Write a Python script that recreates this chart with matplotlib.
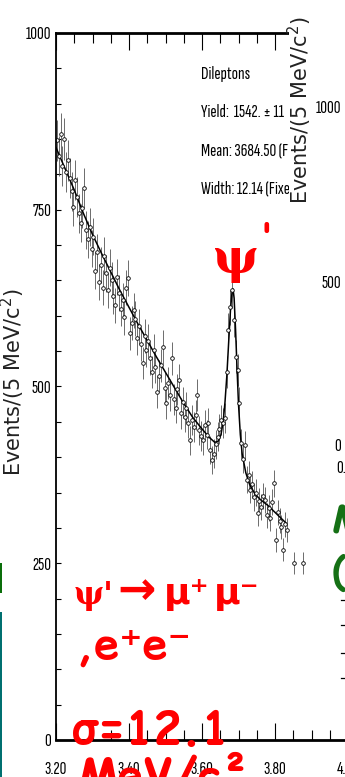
import matplotlib

matplotlib.use("Agg")
import matplotlib.pyplot as plt
import numpy as np
from matplotlib.lines import Line2D
from matplotlib.patches import Rectangle
from matplotlib.ticker import FixedLocator, MultipleLocator

W, H = 345, 777

# dilepton invariant mass, 5 MeV bins from 3.200 GeV
mass_start = 3.2025
bin_width = 0.005
counts = [
    848, 826, 857, 812, 850, 804, 820, 795, 776, 754,
    792, 768, 745, 731, 752, 781, 722, 708, 726, 695,
    712, 664, 690, 648, 672, 640, 685, 660, 636, 668,
    650, 628, 615, 655, 632, 610, 622, 598, 640, 653,
    575, 590, 608, 596, 568, 585, 560, 533, 572, 551,
    565, 540, 520, 551, 528, 492, 515, 530, 556, 498,
    476, 505, 488, 540, 482, 470, 496, 509, 462, 478,
    457, 470, 448, 424, 452, 443, 460, 488, 438, 430,
    424, 445, 432, 448, 410, 396, 405, 418, 429, 440,
    453, 448, 455, 520, 580, 612, 636, 594, 542, 523,
    477, 420, 398, 417, 368, 375, 354, 362, 343, 350,
    321, 338, 330, 345, 340, 318, 328, 314, 336, 363,
    283, 322, 310, 301, 269, 305, 297,
]
tail_mass = [3.8525, 3.8775]
tail_counts = [250, 250]

# fitted shape: background + psi(2S) peak
fit_mass = [
    3.200, 3.225, 3.250, 3.275, 3.300, 3.325, 3.350, 3.375, 3.400, 3.425,
    3.450, 3.475, 3.500, 3.525, 3.550, 3.575, 3.600, 3.620, 3.635, 3.645,
    3.652, 3.658, 3.663, 3.668, 3.673, 3.678, 3.682, 3.685, 3.688, 3.692,
    3.696, 3.700, 3.705, 3.710, 3.720, 3.730, 3.745, 3.760, 3.780, 3.800,
    3.830,
]
fit_counts = [
    838, 808, 778, 745, 715, 688, 662, 636, 612, 588,
    565, 542, 520, 498, 476, 456, 440, 428, 421, 423,
    432, 450, 478, 515, 562, 608, 632, 638, 625, 580,
    525, 475, 432, 405, 378, 362, 348, 340, 332, 322,
    307,
]

stat_lines = ["Dileptons", "Yield:  1542. ± 11", "Mean: 3684.50 (Fixed)", "Width: 12.14 (Fixed)"]
x_major = [3.20, 3.40, 3.60, 3.80, 4.00]
x_labels = ["3.20", "3.40", "3.60", "3.80", "4.00"]
y_major = [0, 250, 500, 750, 1000]

ylabel = "Events/(5 MeV/c$^2$)"
narrow = ["Sofia Sans Extra Condensed", "DejaVu Sans"]
comic = ["Comic Relief", "DejaVu Sans"]
red = "#ff0000"
green = "#157015"


def px(x, y):
    return x / W, 1 - y / H


fig = plt.figure(figsize=(W / 100, H / 100), dpi=100)
fig.patch.set_facecolor("white")

ax = fig.add_axes([56 / W, 37 / H, 292 / W, 707 / H])
mass = mass_start + bin_width * np.arange(len(counts))
all_mass = np.concatenate([mass, tail_mass])
all_counts = np.array(counts + tail_counts, dtype=float)
ax.errorbar(
    all_mass, all_counts, yerr=np.sqrt(all_counts), fmt="o", ms=2.6,
    mfc="white", mec="black", mew=0.6, ecolor="#555555", elinewidth=0.6, capsize=0,
)
ax.plot(fit_mass, fit_counts, color="black", lw=1.1)

ax.set_xlim(3.20, 4.00)
ax.set_ylim(0, 1000)
ax.xaxis.set_major_locator(FixedLocator(x_major))
ax.set_xticklabels(x_labels, family=narrow, fontsize=13.5)
ax.xaxis.set_minor_locator(MultipleLocator(0.05))
ax.yaxis.set_major_locator(FixedLocator(y_major))
ax.set_yticklabels([str(v) for v in y_major], family=narrow, fontsize=13.5)
ax.yaxis.set_minor_locator(MultipleLocator(50))
ax.tick_params(axis="x", which="both", direction="in", top=True, bottom=True, width=0.8, pad=15)
ax.tick_params(axis="x", which="major", length=12)
ax.tick_params(axis="x", which="minor", length=7)
ax.tick_params(axis="y", which="both", direction="in", left=True, right=False, length=3.5, width=0.8, pad=3.5)
ax.spines["right"].set_visible(False)
ax.spines["top"].set_linewidth(2)
ax.spines["bottom"].set_linewidth(2)
ax.spines["left"].set_linewidth(1.3)

for i, line in enumerate(stat_lines):
    fig.text(*px(201, 74 + 38 * i), line, family=narrow, fontsize=13.5, va="center", ha="left", zorder=3)

fig.text(*px(13, 382), ylabel, rotation=90, fontsize=15, ha="center", va="center", color="#222222")

# panel lying over the right edge
fig.add_artist(Rectangle(px(289, 500), 60 / W, 500 / H, transform=fig.transFigure,
                         facecolor="white", edgecolor="none", zorder=5))
fig.text(*px(300, 110), ylabel, rotation=90, fontsize=15, ha="center", va="center", color="#222222", zorder=6)
for label, y, x in [("1000", 108, 341), ("500", 283, 341), ("0", 446, 341), ("0.", 468, 346)]:
    fig.text(*px(x, y), label, family=narrow, fontsize=13.5, ha="right", va="center", zorder=6)
fig.text(*px(332, 522), "M", family=comic, fontsize=28, fontweight="bold", color=green, ha="left", va="center", zorder=6)
fig.text(*px(332, 574), "(", family=comic, fontsize=28, fontweight="bold", color=green, ha="left", va="center", zorder=6)
for y in [600, 625, 653, 678]:
    x0, y0 = px(341, y)
    fig.add_artist(Line2D([x0, 1], [y0, y0], transform=fig.transFigure, color="black", lw=0.9, zorder=6))

# slide edge strips
fig.add_artist(Rectangle(px(0, 593), 2 / W, 30 / H, transform=fig.transFigure,
                         facecolor="#0a6e0a", edgecolor="none", zorder=6))
fig.add_artist(Rectangle(px(0, H), 2 / W, (H - 612) / H, transform=fig.transFigure,
                         facecolor="#007070", edgecolor="none", zorder=6))

# annotations
fig.text(*px(213, 273), "ψ", family="DejaVu Serif", fontsize=35, fontweight="bold", color=red, zorder=7)
fig.text(*px(259, 223), "'", family=comic, fontsize=26, fontweight="bold", color=red, va="top", zorder=7)
fig.text(*px(74, 604), "ψ'", family="DejaVu Serif", fontsize=23, fontweight="bold", color=red, zorder=7)
fig.text(*px(117, 604), "→", fontsize=33, fontweight="bold", color=red, zorder=7)
fig.text(*px(164, 604), "μ⁺", fontsize=26, fontweight="bold", color=red, zorder=7)
fig.text(*px(214, 604), "μ⁻", fontsize=26, fontweight="bold", color=red, zorder=7)
fig.text(*px(76, 658), ",e⁺e⁻", family=comic, fontsize=32, fontweight="bold", color=red, zorder=7)
fig.text(*px(72, 744), "σ=12.1", family=comic, fontsize=33, fontweight="bold", color=red, zorder=7)
fig.text(*px(78, 791), "MeV/c²", family=comic, fontsize=33, fontweight="bold", color=red, zorder=7)

fig.savefig("out.png", dpi=100)
